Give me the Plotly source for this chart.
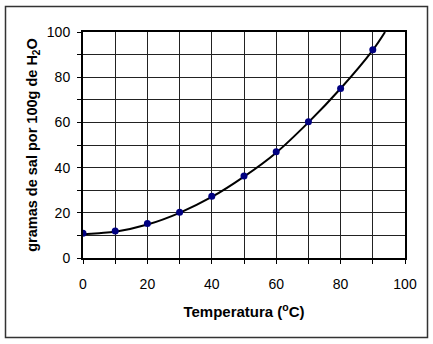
import plotly.graph_objects as go

temp = [0, 10, 20, 30, 40, 50, 60, 70, 80, 90]
solub = [11, 12, 15.3, 20.2, 27.3, 36.3, 47, 60.3, 75, 92.2]

curve_x = [0, 5, 10, 20, 30, 40, 50, 60, 70, 80, 90, 93.8]
curve_y = [10.5, 11, 11.6, 14.8, 20, 27, 36, 46.6, 60, 75, 92, 100]

tick_vals = [0, 10, 20, 30, 40, 50, 60, 70, 80, 90, 100]
tick_text = ['0', '', '20', '', '40', '', '60', '', '80', '', '100']

font = 'Liberation Sans, Arial, sans-serif'

fig = go.Figure()
fig.add_trace(go.Scatter(x=curve_x, y=curve_y, mode='lines',
                         line=dict(color='black', width=2, shape='spline', smoothing=1.0),
                         hoverinfo='skip', showlegend=False))
fig.add_trace(go.Scatter(x=temp, y=solub, mode='markers',
                         marker=dict(color='#000080', size=7),
                         showlegend=False))

axis_common = dict(
    range=[0, 100], tickvals=tick_vals, ticktext=tick_text,
    showgrid=True, gridcolor='#222', gridwidth=1,
    showline=True, linecolor='black', linewidth=2, mirror=True,
    ticks='outside', ticklen=4, tickcolor='black', tickwidth=1,
    zeroline=False, tickfont=dict(family=font, size=14, color='black'),
)

fig.update_layout(
    width=433, height=344,
    margin=dict(l=83, r=28, t=32, b=86),
    paper_bgcolor='white', plot_bgcolor='white',
    xaxis=dict(**axis_common, ticklabelstandoff=8,
               title=dict(text='<b>Temperatura (<sup>o</sup>C)</b>',
                          font=dict(family=font, size=15, color='black'), standoff=16)),
    yaxis=dict(**axis_common, ticklabelstandoff=4,
               title=dict(text='<b>gramas de sal por 100g de H<sub>2</sub>O</b>',
                          font=dict(family=font, size=14.5, color='black'), standoff=6)),
    shapes=[dict(type='rect', xref='paper', yref='paper',
                 x0=(5.5 - 83) / 322, x1=(427.5 - 83) / 322,
                 y0=(258 - 337.5) / 226, y1=(258 - 6.5) / 226,
                 line=dict(color='#333', width=1.5), layer='below')],
)

fig.write_html('out.html')
